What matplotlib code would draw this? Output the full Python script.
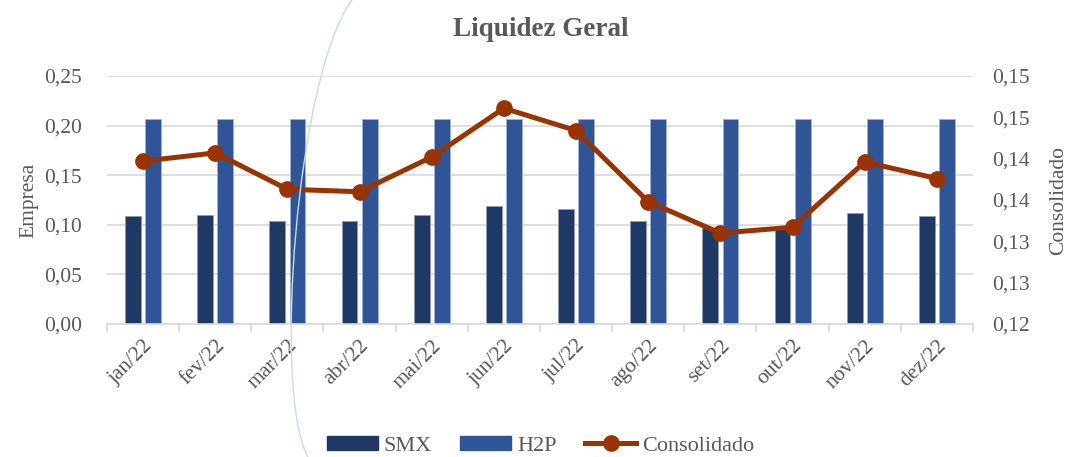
import numpy as np
from matplotlib import pyplot as plt
from matplotlib.path import Path
from matplotlib.patches import PathPatch
from matplotlib.lines import Line2D
from matplotlib.patches import Patch

# data
months = ["jan/22", "fev/22", "mar/22", "abr/22", "mai/22", "jun/22",
          "jul/22", "ago/22", "set/22", "out/22", "nov/22", "dez/22"]
smx = [0.109, 0.110, 0.104, 0.104, 0.110, 0.119, 0.116, 0.104, 0.097, 0.099, 0.112, 0.109]
h2p = [0.207, 0.207, 0.207, 0.207, 0.207, 0.207, 0.207, 0.207, 0.207, 0.207, 0.207, 0.207]
consolidado = [0.1397, 0.1407, 0.1363, 0.1360, 0.1402, 0.1461, 0.1434, 0.1348,
               0.1310, 0.1317, 0.1396, 0.1376]

left_ticks = [0.00, 0.05, 0.10, 0.15, 0.20, 0.25]
left_labels = ["0,00", "0,05", "0,10", "0,15", "0,20", "0,25"]
right_ticks = [0.120, 0.125, 0.130, 0.135, 0.140, 0.145, 0.150]
right_labels = ["0,12", "0,13", "0,13", "0,14", "0,14", "0,15", "0,15"]

plt.rcParams['font.family'] = ['Liberation Serif', 'DejaVu Serif']
grey = "#595959"
c_smx = "#203864"
c_h2p = "#2F5597"
c_line = "#993300"
fs = 15.5

fig = plt.figure(figsize=(10.7, 4.57), dpi=100)
ax = fig.add_axes([0.1, 0.291, 0.8093, 0.5427])
ax2 = ax.twinx()

# decorative arc in the background (figure pixel coords, y down)
W, H = 1070, 457
pts = [(352, 0), (297, 74), (272, 392), (308, 457)]
verts = [(x / W, 1 - y / H) for x, y in pts]
arc = PathPatch(Path(verts, [Path.MOVETO, Path.CURVE4, Path.CURVE4, Path.CURVE4]),
                transform=fig.transFigure, fill=False, edgecolor="#c4dde8", lw=1.0, zorder=0)
fig.patches.append(arc)

x = np.arange(len(months))
w = 0.22
ax.bar(x - 0.14, smx, w, color=c_smx, edgecolor="#8e9bb5", linewidth=0.6, zorder=2)
ax.bar(x + 0.14, h2p, w, color=c_h2p, edgecolor="#9fb2d6", linewidth=0.6, zorder=2)

ax.set_ylim(0, 0.25)
ax.set_yticks(left_ticks)
ax.set_yticklabels(left_labels)
ax.set_xlim(-0.5, len(months) - 0.5)
ax.grid(axis="y", color="#d9d9d9", linewidth=1.2, zorder=0)
ax.set_axisbelow(True)

# boundary ticks without labels, labels on category centres
ax.set_xticks(np.arange(-0.5, len(months), 1.0))
ax.set_xticklabels([])
ax.set_xticks(x, minor=True)
ax.set_xticklabels(months, minor=True, rotation=45, ha="right", rotation_mode="anchor",
                   fontsize=fs, color=grey)
ax.tick_params(axis="x", which="major", length=6, color="#d9d9d9", width=1.2)
ax.tick_params(axis="x", which="minor", length=0, pad=9)
ax.tick_params(axis="y", length=0, labelsize=fs, labelcolor=grey, pad=18)

for s in ["top", "left", "right"]:
    ax.spines[s].set_visible(False)
    ax2.spines[s].set_visible(False)
ax.spines["bottom"].set_color("#d9d9d9")
ax.spines["bottom"].set_linewidth(1.2)
ax2.spines["bottom"].set_visible(False)

ax2.plot(x, consolidado, color=c_line, lw=3.6, marker="o", ms=11, zorder=3)
ax2.set_ylim(0.12, 0.15)
ax2.set_yticks(right_ticks)
ax2.set_yticklabels(right_labels)
ax2.tick_params(axis="y", length=0, labelsize=fs, labelcolor=grey, pad=14)

ax.set_ylabel("Empresa", fontsize=fs, color=grey, labelpad=4)
ax2.set_ylabel("Consolidado", fontsize=fs, color=grey, labelpad=14)

fig.text(0.505, 0.935, "Liquidez Geral", ha="center", va="center",
         fontsize=19.5, fontweight="bold", color=grey)

handles = [Patch(color=c_smx), Patch(color=c_h2p),
           Line2D([0], [0], color=c_line, lw=3.6, marker="o", ms=11)]
fig.legend(handles, ["SMX", "H2P", "Consolidado"], loc="center", bbox_to_anchor=(0.505, 0.025),
           ncol=3, frameon=False, fontsize=16, labelcolor=grey, handlelength=2.3,
           handleheight=0.6, handletextpad=0.25, columnspacing=1.3)

fig.savefig("out.png", dpi=100)
